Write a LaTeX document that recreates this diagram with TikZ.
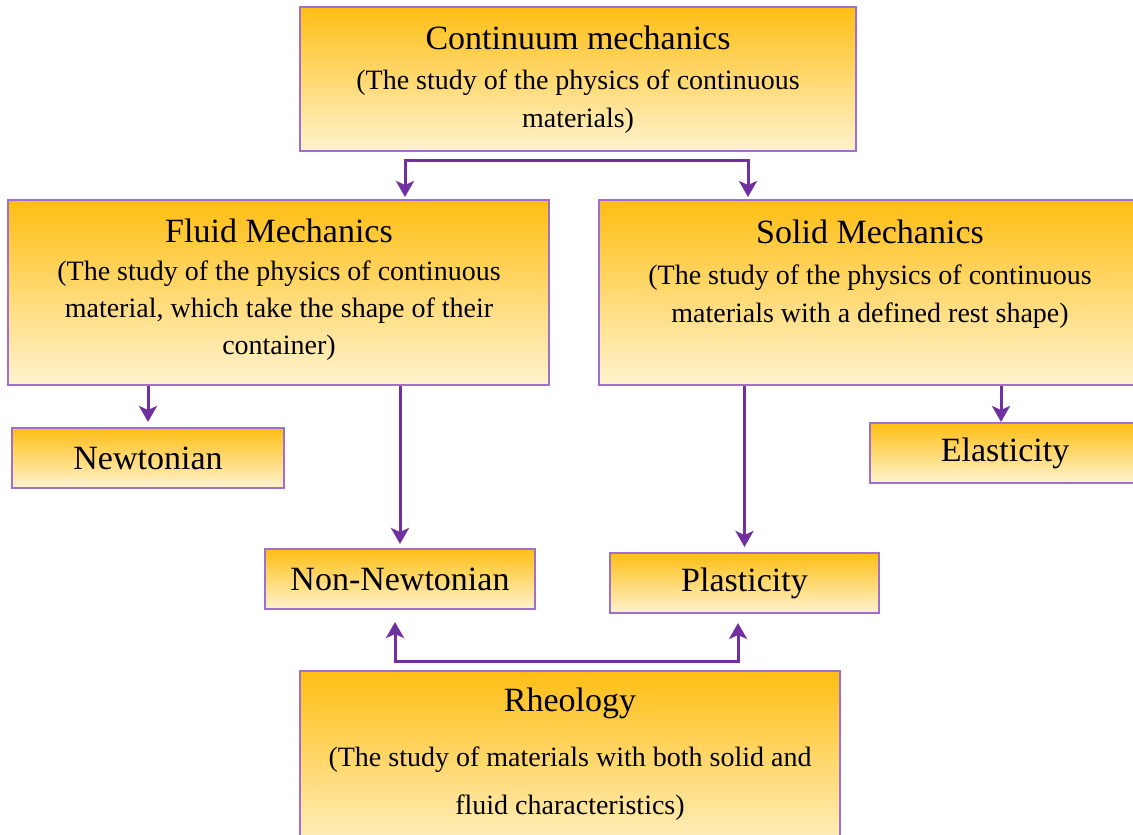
\documentclass[tikz,border=0pt]{standalone}
\usepackage{fontspec}
\setmainfont{Liberation Serif}
\usepackage{tikz}
\usetikzlibrary{
  calc,
  arrows.meta
}
\definecolor{boxtop}{RGB}{255,190,20}
\definecolor{boxbot}{RGB}{255,243,206}
\definecolor{boxline}{RGB}{160,110,205}
\definecolor{linkpurple}{RGB}{112,48,160}
\tikzset{
  panel/.style={rectangle, draw=boxline, line width=1pt,
    top color=boxtop, bottom color=boxbot, inner sep=0pt},
  leaf/.style={panel, minimum height=30pt, font=\fontsize{17}{20}\selectfont},
  heading/.style={inner sep=0pt, font=\fontsize{17}{20}\selectfont},
  body/.style={inner sep=0pt, align=center, font=\fontsize{14}{19}\selectfont},
  flow/.style={-{Stealth[length=8pt,width=9pt,inset=2pt]}, draw=linkpurple, line width=1.5pt},
  twoway/.style={flow, {Stealth[length=8pt,width=9pt,inset=2pt]}-{Stealth[length=8pt,width=9pt,inset=2pt]}}
}

\begin{document}
\begin{tikzpicture}[x=0.5pt, y=-0.5pt]

\useasboundingbox (0,0) rectangle (1133,834);
\clip (0,0) rectangle (1133,834);

% boxes
\node[panel, minimum width=278pt,   minimum height=72pt]   (cont)  at (578,79)     {};
\node[panel, minimum width=270.5pt, minimum height=92.5pt] (fluid) at (278.5,292.5) {};
\node[panel, minimum width=270.5pt, minimum height=92.5pt] (solid) at (869.5,292.5) {};
\node[panel, minimum width=270pt,   minimum height=94.5pt] (rheo)  at (570,765.5)  {};

\node[leaf, minimum width=136pt]   (newt)    at (148,458)   {Newtonian};
\node[leaf, minimum width=135pt]   (elast)   at (1005,453)  {Elasticity};
\node[leaf, minimum width=135pt]   (nonnewt) at (400,579)   {Non-Newtonian};
\node[leaf, minimum width=134.5pt] (plast)   at (744.5,583) {Plasticity};

% texts
\node[heading] (contT)  at (578,38)  {Continuum mechanics};
\node[body]    (contB)  at (578,102) {(The study of the physics of continuous\\materials)};
\node[heading] (fluidT) at (279,231) {Fluid Mechanics};
\node[body, font=\fontsize{14}{18.5}\selectfont]
               (fluidB) at (279,311) {(The study of the physics of continuous\\material, which take the shape of their\\container)};
\node[heading] (solidT) at (870,232) {Solid Mechanics};
\node[body]    (solidB) at (870,297) {(The study of the physics of continuous\\materials with a defined rest shape)};
\node[heading] (rheoT)  at (570,703) {Rheology};
\node[body, font=\fontsize{14}{24}\selectfont]
               (rheoB)  at (570,784) {(The study of materials with both solid and\\fluid characteristics)};

% arrows
\coordinate (splitL) at (405,161);
\coordinate (splitR) at (748,161);
\draw[twoway, shorten <=1pt, shorten >=1pt]
  (splitL |- fluid.north) -- (splitL) -- (splitR) -- (splitR |- solid.north);

\draw[flow, shorten >=2.5pt] (newt.north |- fluid.south) -- (newt.north);
\draw[flow, shorten >=2pt]   (nonnewt.north |- fluid.south) -- (nonnewt.north);
\draw[flow, shorten >=2.5pt] (plast.north |- solid.south) -- (plast.north);
\draw[flow]                  ([xshift=-2pt]elast.north |- solid.south) -- ([xshift=-2pt]elast.north);

\coordinate (joinL) at (395,661);
\coordinate (joinR) at (738,661);
\draw[twoway, shorten <=6pt, shorten >=4.5pt]
  (joinL |- nonnewt.south) -- (joinL) -- (joinR) -- (joinR |- plast.south);

\end{tikzpicture}
\end{document}
